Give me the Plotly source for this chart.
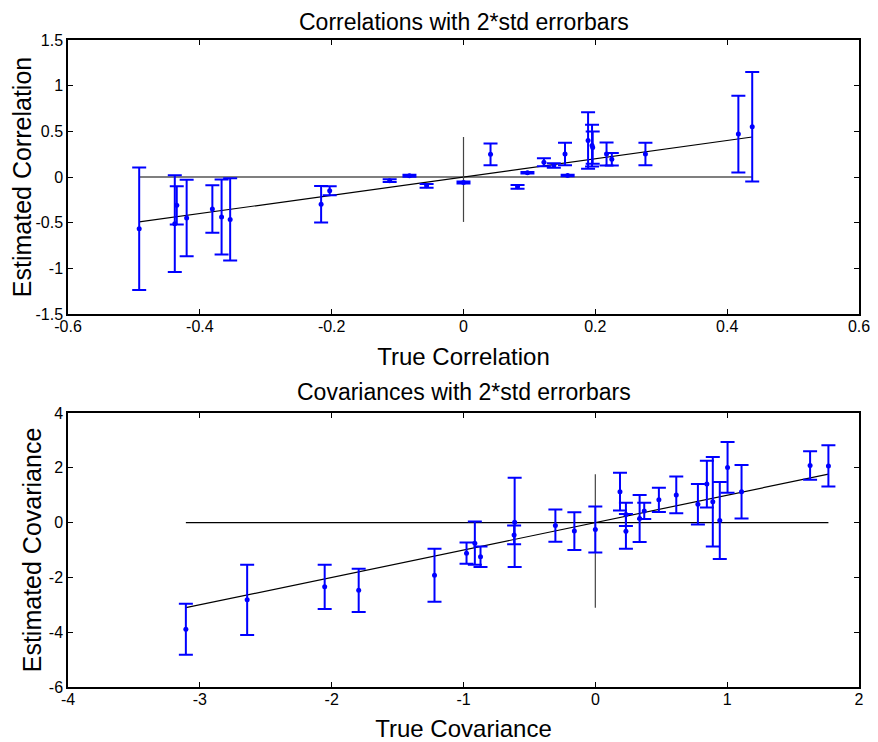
import plotly.graph_objects as go
from plotly.subplots import make_subplots

# ---------------- data: correlations ----------------
corr_true = [-0.492, -0.438, -0.435, -0.420, -0.381, -0.367, -0.354, -0.216, -0.203,
             -0.112, -0.082, -0.056, 0.000, 0.041, 0.082, 0.097, 0.122, 0.137, 0.154,
             0.158, 0.189, 0.195, 0.196, 0.217, 0.225, 0.276, 0.417, 0.438]
corr_est = [-0.566, -0.511, -0.310, -0.449, -0.350, -0.438, -0.464, -0.299, -0.151,
            -0.040, 0.015, -0.097, -0.060, 0.248, -0.108, 0.046, 0.161, 0.126, 0.252,
            0.016, 0.400, 0.344, 0.322, 0.253, 0.195, 0.252, 0.470, 0.550]
corr_err = [0.67, 0.53, 0.21, 0.42, 0.26, 0.41, 0.45, 0.20, 0.049,
            0.015, 0.011, 0.020, 0.010, 0.12, 0.020, 0.009, 0.044, 0.024, 0.124,
            0.009, 0.31, 0.228, 0.177, 0.126, 0.068, 0.124, 0.42, 0.60]

# ---------------- data: covariances ----------------
cov_true = [-3.106, -2.641, -2.053, -1.795, -1.220, -0.977, -0.914, -0.871, -0.616,
            -0.612, -0.303, -0.159, 0.000, 0.187, 0.232, 0.232, 0.336, 0.371, 0.482,
            0.614, 0.778, 0.846, 0.891, 0.944, 1.003, 1.109, 1.629, 1.768]
cov_est = [-3.89, -2.82, -2.345, -2.47, -1.92, -1.115, -0.75, -1.245, -0.45,
           0.01, -0.11, -0.31, -0.25, 1.13, 0.30, -0.32, 0.15, 0.425, 0.83,
           1.01, 0.67, 1.405, 0.76, 0.075, 2.015, 1.125, 2.08, 2.07]
cov_err = [0.93, 1.28, 0.805, 0.79, 0.97, 0.385, 0.79, 0.375, 0.34,
           1.63, 0.59, 0.69, 0.84, 0.69, 0.42, 0.63, 0.86, 0.295, 0.44,
           0.67, 0.74, 0.855, 1.63, 1.405, 0.925, 0.975, 0.52, 0.75]

# ---------------- tick labels ----------------
corr_xticks = [-0.6, -0.4, -0.2, 0, 0.2, 0.4, 0.6]
corr_xtext = ["-0.6", "-0.4", "-0.2", "0", "0.2", "0.4", "0.6"]
corr_yticks = [-1.5, -1, -0.5, 0, 0.5, 1, 1.5]
corr_ytext = ["-1.5", "-1", "-0.5", "0", "0.5", "1", "1.5"]
cov_xticks = [-4, -3, -2, -1, 0, 1, 2]
cov_xtext = ["-4", "-3", "-2", "-1", "0", "1", "2"]
cov_yticks = [-6, -4, -2, 0, 2, 4]
cov_ytext = ["-6", "-4", "-2", "0", "2", "4"]

titles = ["Correlations with 2*std errorbars", "Covariances with 2*std errorbars"]
xlabels = ["True Correlation", "True Covariance"]
ylabels = ["Estimated Correlation", "Estimated Covariance"]

FONT = "Liberation Sans, Arial, Helvetica, sans-serif"
BLUE = "#0000FF"

# page body has an 8px margin, so the figure is drawn 8px in from the window corner
OFF = 8
W, H = 878 - OFF, 742 - OFF
ML, MR, MT, MB = 68 - OFF, 878 - 859, 40 - OFF, 742 - 687
PH = H - MT - MB

def py2paper(py):
    # py: pixel row in the 878x742 window
    return (H - MB - (py - OFF)) / PH

fig = make_subplots(rows=2, cols=1, vertical_spacing=0.0)
fig.update_layout(
    yaxis=dict(domain=[py2paper(314), 1.0]),
    yaxis2=dict(domain=[0.0, py2paper(413)]),
)

panels = [
    (corr_true, corr_est, corr_err),
    (cov_true, cov_est, cov_err),
]

for i, (xt, ye, er) in enumerate(panels, start=1):
    lo, hi = min(xt), max(xt)
    # identity line
    fig.add_trace(go.Scatter(x=[lo, hi], y=[lo, hi], mode="lines",
                             line=dict(color="black", width=1.2),
                             showlegend=False, hoverinfo="skip"), row=i, col=1)
    # horizontal zero line
    fig.add_trace(go.Scatter(x=[lo, hi], y=[0, 0], mode="lines",
                             line=dict(color="black", width=1.2),
                             showlegend=False, hoverinfo="skip"), row=i, col=1)
    # vertical zero line
    fig.add_trace(go.Scatter(x=[0, 0], y=[lo, hi], mode="lines",
                             line=dict(color="#444444", width=1.2),
                             showlegend=False, hoverinfo="skip"), row=i, col=1)
    # error bars
    fig.add_trace(go.Scatter(x=xt, y=ye, mode="markers",
                             marker=dict(color=BLUE, size=5),
                             error_y=dict(type="data", array=er, visible=True,
                                          color=BLUE, thickness=2, width=7),
                             showlegend=False), row=i, col=1)

axis_common = dict(showline=True, linecolor="black", linewidth=1.5, mirror="ticks",
                   ticks="inside", ticklen=5, tickwidth=1.2, tickcolor="black",
                   showgrid=False, zeroline=False, automargin=False,
                   tickfont=dict(family=FONT, size=16, color="black"))

fig.update_xaxes(axis_common)
fig.update_yaxes(axis_common)
fig.update_xaxes(ticklabelstandoff=-3)

fig.update_xaxes(range=[-0.6, 0.6], tickvals=corr_xticks, ticktext=corr_xtext,
                 title=dict(text=xlabels[0], font=dict(family=FONT, size=24, color="black"),
                            standoff=14), row=1, col=1)
fig.update_yaxes(range=[-1.5, 1.5], tickvals=corr_yticks, ticktext=corr_ytext,
                 title=dict(text=ylabels[0], font=dict(family=FONT, size=25, color="black"),
                            standoff=0), row=1, col=1)
fig.update_xaxes(range=[-4, 2], tickvals=cov_xticks, ticktext=cov_xtext,
                 title=dict(text=xlabels[1], font=dict(family=FONT, size=24, color="black"),
                            standoff=14), row=2, col=1)
fig.update_yaxes(range=[-6, 4], tickvals=cov_yticks, ticktext=cov_ytext,
                 title=dict(text=ylabels[1], font=dict(family=FONT, size=25, color="black"),
                            standoff=0), row=2, col=1)

for t, py in zip(titles, [21.5, 392]):
    fig.add_annotation(text=t, x=0.5, xref="paper", y=py2paper(py), yref="paper",
                       xanchor="center", yanchor="middle", showarrow=False, borderpad=0,
                       font=dict(family=FONT, size=23, color="black"))

fig.update_layout(width=W, height=H, margin=dict(l=ML, r=MR, t=MT, b=MB, autoexpand=False),
                  plot_bgcolor="white", paper_bgcolor="white",
                  font=dict(family=FONT, color="black"))

fig.write_html("out.html")
